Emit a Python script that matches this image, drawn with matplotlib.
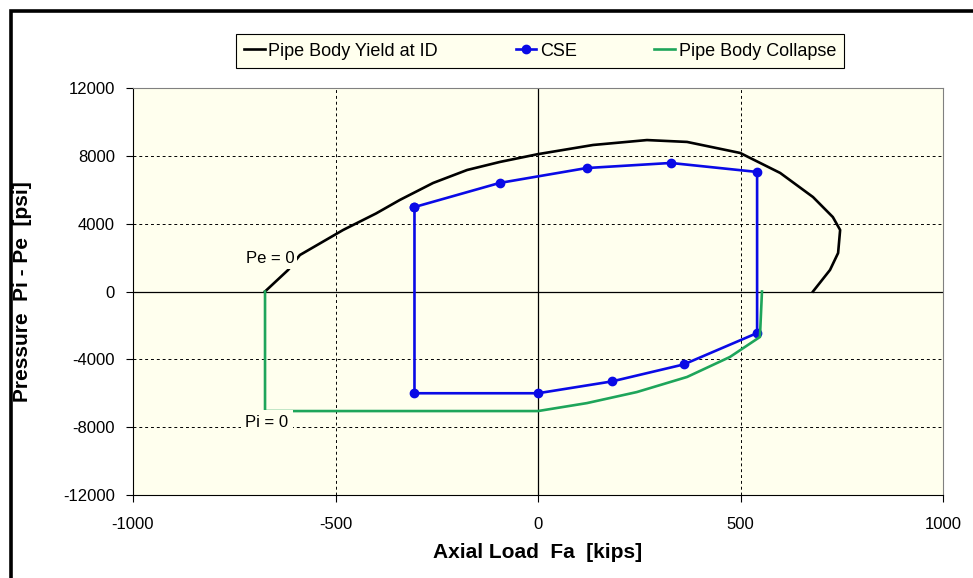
import matplotlib
matplotlib.use("Agg")
import matplotlib.pyplot as plt
from matplotlib.patches import Rectangle

plt.rcParams['font.family'] = ['Liberation Sans', 'DejaVu Sans']
plt.rcParams['axes.unicode_minus'] = False

# Pipe body yield at ID (von Mises ellipse, Pe = 0 branch)
yield_x = [-674, -617, -588, -481, -400, -341, -259, -175, -94, 0, 136, 269, 368,
           499, 598, 679, 728, 746, 741, 721, 679]
yield_y = [0, 1270, 2150, 3630, 4600, 5400, 6400, 7165, 7640, 8100, 8640, 8930, 8820,
           8170, 6990, 5570, 4390, 3630, 2270, 1270, 0]

# CSE envelope
cse_x = [-305, -95, 120, 328, 541, 541, 360, 183, 0, -305, -305]
cse_y = [4980, 6400, 7280, 7580, 7050, -2450, -4300, -5300, -6000, -6000, 4980]

# Pipe body collapse (Pi = 0 branch)
col_x = [-674, -674, 0, 121, 244, 368, 474, 548, 553]
col_y = [0, -7050, -7050, -6580, -5930, -5040, -3860, -2680, 0]

x_ticks = [-1000, -500, 0, 500, 1000]
y_ticks = [-12000, -8000, -4000, 0, 4000, 8000, 12000]

bg = '#FFFFEE'

fig = plt.figure(figsize=(9.73, 5.78), dpi=100)
ax = fig.add_axes([133 / 973, 1 - 495 / 578, 810 / 973, 407 / 578])
ax.set_facecolor(bg)

ax.set_xlim(-1000, 1000)
ax.set_ylim(-12000, 12000)
ax.set_xticks(x_ticks)
ax.set_yticks(y_ticks)
ax.grid(True, color='black', linestyle=(0, (3, 3)), linewidth=0.7)
ax.axhline(0, color='black', linewidth=0.9)
ax.axvline(0, color='black', linewidth=0.9)

l1, = ax.plot(yield_x, yield_y, color='black', linewidth=1.9, label='Pipe Body Yield at ID')
l2, = ax.plot(cse_x, cse_y, color='#0A0AE6', linewidth=1.9, marker='o', markersize=6,
              label='CSE')
l3, = ax.plot(col_x, col_y, color='#1EA55A', linewidth=1.9, label='Pipe Body Collapse')

ax.text(-662, 1950, 'Pe = 0', fontsize=12, ha='center', va='center', zorder=5,
        bbox=dict(facecolor=bg, edgecolor='none', pad=2))
ax.text(-669, -7700, 'Pi = 0', fontsize=12, ha='center', va='center', zorder=5,
        bbox=dict(facecolor=bg, edgecolor='none', pad=3))

for s in ['top', 'right']:
    ax.spines[s].set_color('#808080')
for s in ['left', 'bottom']:
    ax.spines[s].set_color('black')
ax.tick_params(direction='out', length=5, width=0.8, labelsize=12)
ax.tick_params(axis='x', pad=11)
ax.tick_params(axis='y', pad=8)

ax.set_xlabel('Axial Load  Fa  [kips]', fontsize=15, fontweight='bold', va='center')
ax.set_ylabel('Pressure  Pi - Pe  [psi]', fontsize=15, fontweight='bold', va='center')
ax.xaxis.set_label_coords(0.5, (495 - 553) / 407)
ax.yaxis.set_label_coords((23 - 133) / 810, 0.5)

leg = fig.legend(handles=[l1, l2, l3], loc='center', ncol=3,
                 bbox_to_anchor=(540 / 973, 1 - 51 / 578), frameon=True, fancybox=False,
                 facecolor=bg, edgecolor='black', framealpha=1, handlelength=1.15,
                 handletextpad=0.2, columnspacing=4.3, borderpad=0.45,
                 prop={'size': 13})
leg.get_frame().set_linewidth(0.8)

# chart-area frame
fig.patches.append(Rectangle((11 / 973, -0.1), 1.2, 1.1 - 11 / 578,
                             transform=fig.transFigure, fill=False,
                             edgecolor='black', linewidth=2.6))

fig.savefig('out.png', dpi=100)
